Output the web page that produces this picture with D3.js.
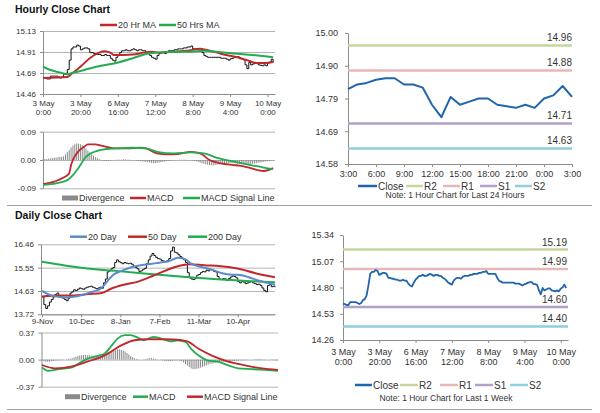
<!DOCTYPE html>
<html>
<head>
<meta charset="utf-8">
<script src="https://cdn.jsdelivr.net/npm/d3@7"></script>
<style>
  body { margin: 0; background: #fff; }
  svg { display: block; }
</style>
</head>
<body>
<svg width="600" height="413"></svg>
<script>
// ---- hourly closes, 3 May 0:00 .. 10 May 3:00 (one value per trading hour)
var hourlyClose = [
  14.635, 14.63, 14.62, 14.62, 14.65, 14.65, 14.65, 14.65, 14.64, 14.63,
  14.64, 14.67, 14.68, 14.72, 14.82, 14.94, 14.96, 14.96, 14.98, 14.97,
  14.93, 14.94, 14.95, 14.95, 14.94, 14.90, 14.90, 14.89, 14.89, 14.88,
  14.88, 14.87, 14.87, 14.88, 14.87, 14.87, 14.84, 14.82, 14.81, 14.85,
  14.88, 14.90, 14.92, 14.92, 14.93, 14.92, 14.92, 14.93, 14.94, 14.93,
  14.92, 14.93, 14.93, 14.92, 14.92, 14.90, 14.89, 14.87, 14.85, 14.84,
  14.83, 14.87, 14.89, 14.90, 14.90, 14.89, 14.91, 14.92, 14.92, 14.92,
  14.93, 14.93, 14.94, 14.94, 14.94, 14.95, 14.95, 14.96, 14.96, 14.97,
  14.94, 14.94, 14.94, 14.94, 14.94, 14.90, 14.87, 14.86, 14.85, 14.85,
  14.85, 14.85, 14.85, 14.85, 14.85, 14.84, 14.84, 14.84, 14.83,
  14.82, 14.835, 14.84, 14.85, 14.855, 14.855, 14.835, 14.835, 14.825, 14.77,
  14.73, 14.795, 14.77, 14.78, 14.79, 14.79, 14.77, 14.765, 14.76, 14.77,
  14.76, 14.79, 14.80, 14.83, 14.795
];
var hourLabelIdx = [0, 20, 40, 60, 80, 100, 120];
var hourLabelDay = ['3 May', '3 May', '6 May', '7 May', '8 May', '9 May', '10 May'];
var hourLabelTime = ['0:00', '20:00', '16:00', '12:00', '8:00', '4:00', '0:00'];

var ma20HrIdx = [0, 13, 15, 20, 25, 30, 33, 36, 38, 43, 48, 54, 58, 62, 70, 77, 84, 87, 93, 98, 104, 109, 114, 119, 123];
var ma20Hr = [14.63, 14.64, 14.67, 14.75, 14.84, 14.90, 14.915, 14.90, 14.875, 14.875, 14.88, 14.90, 14.91, 14.90, 14.91, 14.92, 14.94, 14.93, 14.90, 14.875, 14.85, 14.82, 14.79, 14.79, 14.80];
var ma50HrIdx = [0, 4, 9, 13, 15, 22, 31, 39, 48, 55, 61, 70, 79, 86, 93, 102, 112, 123];
var ma50Hr = [14.75, 14.715, 14.69, 14.67, 14.68, 14.715, 14.76, 14.79, 14.84, 14.885, 14.90, 14.91, 14.91, 14.92, 14.91, 14.89, 14.875, 14.85];

var hrMacdIdx = [0, 6, 11, 14, 15, 18, 22, 24, 28, 31, 36, 39, 45, 52, 55, 61, 66, 72, 79, 84, 89, 95, 102, 105, 111, 118, 123];
var hrMacd = [-0.077, -0.069, -0.056, -0.042, -0.016, 0.021, 0.042, 0.050, 0.050, 0.046, 0.039, 0.037, 0.037, 0.039, 0.037, 0.021, 0.018, 0.019, 0.026, 0.021, 0.000, -0.011, -0.016, -0.018, -0.026, -0.035, -0.026];
var hrSignalIdx = [0, 7, 13, 16, 20, 23, 29, 34, 39, 48, 55, 61, 70, 79, 86, 93, 102, 111, 118, 123];
var hrSignal = [-0.079, -0.074, -0.064, -0.048, -0.016, 0.011, 0.029, 0.035, 0.037, 0.039, 0.037, 0.026, 0.021, 0.024, 0.021, 0.007, -0.005, -0.016, -0.024, -0.029];
var hrDivergence = [
  0.002, 0.003, 0.003, 0.004, 0.005,
  0.006, 0.007, 0.008, 0.009, 0.010, 0.010, 0.012,
  0.018, 0.025, 0.032,
  0.040, 0.046, 0.050, 0.053, 0.052, 0.050,
  0.047, 0.042, 0.036, 0.030, 0.024,
  0.018, 0.013, 0.009, 0.006, 0.003,
  0.001, -0.002, -0.003, -0.003, -0.002, -0.002, -0.001, 0.000, 0.001, 0.001,
  0.001, 0.001, 0.002, 0.002, 0.001, 0.001, 0.000, 0.000, -0.001, -0.002, -0.003, -0.004, -0.004, -0.005, -0.006,
  -0.007, -0.008, -0.009, -0.010, -0.010, -0.009, -0.008, -0.007, -0.006, -0.005, -0.004, -0.003, -0.002, -0.001, -0.001, 0.000, 0.000, 0.001,
  0.001, 0.001, 0.001, 0.000, 0.000, -0.001, -0.002, -0.003, -0.004, -0.006, -0.008,
  -0.010, -0.012, -0.014, -0.015, -0.016, -0.017, -0.017, -0.016, -0.015, -0.014, -0.013, -0.012, -0.012, -0.011, -0.011, -0.010,
  -0.010, -0.010, -0.011, -0.012, -0.012, -0.013, -0.013, -0.014, -0.014, -0.014, -0.013, -0.012, -0.011, -0.010, -0.009, -0.008, -0.007, -0.006, -0.005, -0.004, -0.003, -0.002, -0.001
];

// ---- last 24 hours and pivot levels
var dayHourLabels = ['3:00', '6:00', '9:00', '12:00', '15:00', '18:00', '21:00', '0:00', '3:00'];
var levelNames = ['R2', 'R1', 'S1', 'S2'];
var levels24h = [14.96, 14.88, 14.71, 14.63];
var levelsWeek = [15.19, 14.99, 14.60, 14.40];

// ---- daily closes, 9 Nov .. 10 May
var dailyClose = [
  14.40, 14.10, 13.95, 14.05, 14.20, 14.30, 14.40, 14.50, 14.55, 14.45,
  14.40, 14.35, 14.30, 14.25, 14.35, 14.55, 14.60, 14.68, 14.65, 14.70,
  14.75, 14.72, 14.70, 14.75, 14.78, 14.80, 14.82, 14.78, 14.75, 14.72,
  14.75, 14.78, 14.74, 14.95, 15.10, 15.38, 15.42, 15.50, 15.55, 15.75,
  15.85, 15.78, 15.74, 15.70, 15.75, 15.72, 15.70, 15.72, 15.68, 15.60,
  15.55, 15.50, 15.40, 15.42, 15.48, 15.52, 15.70, 15.85, 16.00, 16.10,
  16.02, 15.95, 15.90, 15.88, 15.82, 15.80, 15.78, 15.82, 15.90, 16.20,
  16.35, 16.15, 16.12, 16.05, 15.98, 15.92, 15.85, 15.75, 15.35, 15.15,
  15.10, 15.08, 15.12, 15.25, 15.28, 15.35, 15.40, 15.38, 15.45, 15.42,
  15.48, 15.45, 15.40, 15.38, 15.20, 15.10, 15.08, 15.12, 15.10, 15.05,
  15.12, 15.18, 15.22, 15.20, 15.15, 15.00, 14.95, 15.00, 14.98, 14.92,
  14.95, 14.98, 15.00, 14.95, 14.92, 14.88, 14.90, 14.85, 14.75, 14.65,
  14.60, 14.85, 14.88, 14.80, 14.82, 14.78
];
var dayLabelIdx = [0, 21, 42, 63, 84, 105];
var dayLabels = ['9-Nov', '10-Dec', '8-Jan', '7-Feb', '11-Mar', '10-Apr'];

var ma20DayIdx = [0, 5, 12, 18, 23, 28, 32, 35, 38, 43, 48, 53, 59, 63, 68, 73, 77, 80, 86, 91, 96, 102, 105, 111, 116, 121, 125];
var ma20Day = [14.64, 14.46, 14.38, 14.42, 14.51, 14.62, 14.75, 15.01, 15.25, 15.43, 15.56, 15.64, 15.70, 15.74, 15.80, 15.93, 15.87, 15.70, 15.56, 15.47, 15.34, 15.27, 15.27, 15.17, 15.04, 14.95, 14.88];
var ma50DayIdx = [0, 9, 16, 25, 32, 37, 44, 52, 59, 63, 71, 79, 87, 96, 105, 114, 125];
var ma50Day = [14.42, 14.46, 14.46, 14.51, 14.55, 14.72, 14.88, 15.01, 15.21, 15.33, 15.56, 15.68, 15.64, 15.60, 15.51, 15.34, 15.17];
var ma200DayIdx = [0, 9, 19, 30, 41, 52, 61, 79, 96, 114, 125];
var ma200Day = [15.78, 15.67, 15.56, 15.47, 15.41, 15.34, 15.28, 15.17, 15.08, 15.01, 14.97];

var dMacdIdx = [0, 3, 9, 16, 19, 24, 30, 33, 37, 40, 44, 47, 51, 54, 59, 63, 68, 72, 76, 79, 83, 88, 93, 99, 104, 111, 118, 125];
var dMacd = [-0.106, -0.152, -0.13, -0.106, -0.06, 0.01, 0.055, 0.079, 0.194, 0.287, 0.333, 0.333, 0.296, 0.264, 0.31, 0.287, 0.25, 0.264, 0.24, 0.148, 0.055, -0.014, -0.028, -0.083, -0.12, -0.13, -0.14, -0.152];
var dSignalIdx = [0, 7, 16, 24, 33, 42, 49, 56, 65, 74, 77, 83, 90, 97, 104, 113, 120, 125];
var dSignal = [-0.074, -0.12, -0.093, -0.028, 0.055, 0.194, 0.264, 0.278, 0.278, 0.264, 0.25, 0.148, 0.055, -0.014, -0.06, -0.106, -0.13, -0.14];
var dDivergence = [
  -0.01, -0.02, -0.03, -0.03, -0.03, -0.02, -0.02, -0.01, -0.01, -0.01, -0.005, -0.005,
  0.0, 0.005, 0.01, 0.015, 0.02, 0.03, 0.04, 0.05,
  0.055, 0.06, 0.065, 0.065, 0.06, 0.06, 0.055, 0.05, 0.05, 0.05,
  0.05, 0.055, 0.06, 0.07, 0.085, 0.10,
  0.11, 0.12, 0.13, 0.135, 0.14, 0.14, 0.135, 0.125, 0.11, 0.09,
  0.07, 0.05, 0.035, 0.02, 0.01, 0.005, 0.0,
  0.0, 0.005, 0.01, 0.015, 0.02, 0.02, 0.015, 0.01,
  0.005, 0.0, -0.005, -0.01, -0.015, -0.02,
  -0.02, -0.02, -0.015, -0.01, -0.01, -0.01, -0.015, -0.02, -0.04, -0.06,
  -0.08, -0.10, -0.12, -0.13, -0.13, -0.125, -0.12, -0.11, -0.10, -0.09, -0.08,
  -0.07, -0.06, -0.055, -0.05, -0.045, -0.04, -0.035, -0.03,
  -0.03, -0.03, -0.03, -0.025, -0.025, -0.02, -0.02, -0.015, -0.015, -0.01,
  -0.01, -0.01, -0.005, -0.005, 0.0, 0.0, 0.005, 0.005, 0.01, 0.01,
  0.01, 0.005, 0.005, 0.0, 0.0, -0.005, -0.005, -0.01, -0.01, -0.01
];

var NARROW = "'Liberation Sans Narrow','Arial Narrow','Liberation Sans',Arial,sans-serif";
var GRID = '#b4b4b4', AXIS = '#8c8c8c', TXT = '#333';
var RED = '#c0282d', GREEN = '#21ad4f', BLUE = '#5b8bc8', CLOSE = '#2066ac', GREY = '#8a8a8a';
var levelColors = ['#c4d79b', '#e6b8b7', '#b1a0c7', '#92cddc'];

var svg = d3.select('svg');

function txt(x, y, s, size, anchor) {
  return svg.append('text')
    .attr('x', x).attr('y', y)
    .attr('font-family', NARROW).attr('font-size', size)
    .attr('text-anchor', anchor || 'start')
    .attr('fill', TXT)
    .text(s);
}

function styleAxis(g, size) {
  g.attr('font-family', NARROW).attr('font-size', size);
  g.select('.domain').attr('stroke', AXIS);
  g.selectAll('.tick line').attr('stroke', AXIS);
  g.selectAll('.tick text').attr('fill', TXT);
}

// y axis with tick labels, optional gridlines across the plot
function yAxis(x0, x1, y, vals, labels, grid, size, pad) {
  if (grid) {
    svg.append('g')
      .attr('transform', 'translate(' + x0 + ',0)')
      .call(d3.axisLeft(y).tickValues(vals).tickSize(-(x1 - x0)).tickFormat(''))
      .call(g => {
        g.select('.domain').remove();
        g.selectAll('line').attr('stroke', GRID);
      });
  }
  var g = svg.append('g')
    .attr('transform', 'translate(' + x0 + ',0)')
    .call(d3.axisLeft(y).tickValues(vals).tickFormat((d, i) => labels[i])
      .tickSize(3).tickSizeOuter(0).tickPadding(pad || 3));
  styleAxis(g, size);
}

// x axis at y0, labels in one or two lines
function xAxis(x, y0, idx, line1, line2, size, dy1, dy2) {
  var g = svg.append('g')
    .attr('transform', 'translate(0,' + y0 + ')')
    .call(d3.axisBottom(x).tickValues(idx).tickSize(3).tickSizeOuter(0).tickFormat(''));
  styleAxis(g, size);
  g.selectAll('.tick').each(function (d, i) {
    var t = d3.select(this).append('text')
      .attr('fill', TXT).attr('text-anchor', 'middle');
    t.append('tspan').attr('x', 0).attr('y', dy1).text(line1[i]);
    if (line2) t.append('tspan').attr('x', 0).attr('y', dy2).text(line2[i]);
  });
}

function legend(y, items, size) {
  items.forEach(it => {
    if (it.bar) {
      svg.append('rect').attr('x', it.x).attr('y', y - 2.5)
        .attr('width', it.w).attr('height', 5).attr('fill', it.color);
    } else {
      svg.append('line').attr('x1', it.x).attr('x2', it.x + it.w)
        .attr('y1', y).attr('y2', y)
        .attr('stroke', it.color).attr('stroke-width', it.sw || 2.5);
    }
    txt(it.x + it.w + 1, y + size * 0.35, it.label, size);
  });
}

function path(data, line, color, width) {
  svg.append('path').datum(data)
    .attr('d', line).attr('fill', 'none')
    .attr('stroke', color).attr('stroke-width', width)
    .attr('stroke-linejoin', 'round');
}

function smooth(x, y) {
  return d3.line().x(d => x(d[0])).y(d => y(d[1])).curve(d3.curveMonotoneX);
}

function bars(data, x, y, color) {
  svg.append('g').selectAll('rect').data(data).enter().append('rect')
    .attr('x', (d, i) => x(i) - 0.5)
    .attr('y', d => Math.min(y(d), y(0)))
    .attr('width', 1)
    .attr('height', d => Math.abs(y(d) - y(0)))
    .attr('fill', color);
}

function evenTicks(lo, hi, n) {
  return d3.range(n).map(k => lo + k * (hi - lo) / (n - 1));
}

// ===================== Hourly close chart (top left)
svg.append('text').attr('x', 15).attr('y', 13)
  .attr('font-family', "'Liberation Sans',Arial,sans-serif")
  .attr('font-size', 10.5).attr('font-weight', 'bold').attr('fill', '#111')
  .text('Hourly Close Chart');

var hx = d3.scaleLinear().domain([0, 124]).range([43, 275]);
var hy = d3.scaleLinear().domain([14.46, 15.13]).range([94, 31]);
yAxis(43, 275, hy, evenTicks(14.46, 15.13, 4), ['14.46', '14.69', '14.91', '15.13'], true, 8, 4);
xAxis(hx, 94, hourLabelIdx, hourLabelDay, hourLabelTime, 8, 12, 21);

path(hourlyClose, d3.line().x((d, i) => hx(i)).y(d => hy(d)).curve(d3.curveStepAfter), '#111', 1);
path(d3.zip(ma20HrIdx, ma20Hr), smooth(hx, hy), RED, 2);
path(d3.zip(ma50HrIdx, ma50Hr), smooth(hx, hy), GREEN, 2);
legend(25, [
  { x: 100, w: 17, color: RED, label: '20 Hr MA' },
  { x: 159, w: 17, color: GREEN, label: '50 Hrs MA' }
], 9);

// hourly MACD
var hmy = d3.scaleLinear().domain([-0.09, 0.09]).range([188.3, 131.7]);
yAxis(43, 275, hmy, [-0.09, 0, 0.09], ['-0.09', '0.00', '0.09'], true, 8, 4);
bars(hrDivergence, hx, hmy, GREY);
path(d3.zip(hrMacdIdx, hrMacd), smooth(hx, hmy), RED, 1.8);
path(d3.zip(hrSignalIdx, hrSignal), smooth(hx, hmy), GREEN, 1.8);
legend(198, [
  { x: 62, w: 16, color: GREY, label: 'Divergence', bar: true },
  { x: 130, w: 16, color: RED, label: 'MACD' },
  { x: 183, w: 17, color: GREEN, label: 'MACD Signal Line' }
], 9);

// ===================== last 24 hours (top right)
var last24 = hourlyClose.slice(-25);
var tx = d3.scaleLinear().domain([0, 24]).range([348, 572]);
var ty = d3.scaleLinear().domain([14.58, 15.00]).range([164, 33]);
yAxis(348, 572, ty, evenTicks(14.58, 15.00, 5), ['14.58', '14.69', '14.79', '14.90', '15.00'], false, 9, 7);
xAxis(tx, 164, d3.range(0, 25, 3), dayHourLabels, null, 9, 13, 0);
levels24h.forEach((v, i) => {
  svg.append('line').attr('x1', tx(0)).attr('x2', tx(24))
    .attr('y1', ty(v)).attr('y2', ty(v))
    .attr('stroke', levelColors[i]).attr('stroke-width', 2.5);
  txt(tx(24), ty(v) - 4, v.toFixed(2), 10, 'end');
});
path(last24, d3.line().x((d, i) => tx(i)).y(d => ty(d)), CLOSE, 2);
legend(186, [{ x: 358, w: 19, color: CLOSE, label: 'Close' }].concat(levelNames.map((n, i) => ({
  x: [406, 443, 480, 515][i], w: 17, color: levelColors[i], label: n
}))), 10);
txt(455, 198, 'Note: 1 Hour Chart for Last 24 Hours', 8.5, 'middle');

// separators
svg.append('line').attr('x1', 7).attr('x2', 592).attr('y1', 205.5).attr('y2', 205.5).attr('stroke', '#a0a0a0');
svg.append('line').attr('x1', 7).attr('x2', 592).attr('y1', 409.5).attr('y2', 409.5).attr('stroke', '#a0a0a0');

// ===================== Daily close chart (bottom left)
svg.append('text').attr('x', 15).attr('y', 218.5)
  .attr('font-family', "'Liberation Sans',Arial,sans-serif")
  .attr('font-size', 10.5).attr('font-weight', 'bold').attr('fill', '#111')
  .text('Daily Close Chart');

var dx = d3.scaleLinear().domain([0, 125]).range([42, 275]);
var dy = d3.scaleLinear().domain([13.72, 16.46]).range([314.3, 244.3]);
yAxis(41, 275, dy, evenTicks(13.72, 16.46, 4), ['13.72', '14.63', '15.55', '16.46'], true, 8, 4);
xAxis(dx, 314.3, dayLabelIdx, dayLabels, null, 8, 10, 0);
path(dailyClose, d3.line().x((d, i) => dx(i)).y(d => dy(d)).curve(d3.curveStepAfter), '#111', 1);
path(d3.zip(ma200DayIdx, ma200Day), smooth(dx, dy), GREEN, 2);
path(d3.zip(ma50DayIdx, ma50Day), smooth(dx, dy), RED, 2);
path(d3.zip(ma20DayIdx, ma20Day), smooth(dx, dy), BLUE, 2);
legend(236.7, [
  { x: 70, w: 17, color: BLUE, label: '20 Day' },
  { x: 128, w: 19, color: RED, label: '50 Day' },
  { x: 188, w: 19, color: GREEN, label: '200 Day' }
], 9);

// daily MACD
var dmx = d3.scaleLinear().domain([0, 125]).range([42, 278]);
var dmy = d3.scaleLinear().domain([-0.37, 0.37]).range([386.7, 332.5]);
yAxis(41.5, 278, dmy, [-0.37, 0, 0.37], ['-0.37', '0.00', '0.37'], true, 8, 4);
bars(dDivergence, dmx, dmy, GREY);
path(d3.zip(dMacdIdx, dMacd), smooth(dmx, dmy), GREEN, 1.8);
path(d3.zip(dSignalIdx, dSignal), smooth(dmx, dmy), RED, 1.8);
legend(396.7, [
  { x: 65, w: 15, color: GREY, label: 'Divergence', bar: true },
  { x: 133, w: 15, color: GREEN, label: 'MACD' },
  { x: 187, w: 16, color: RED, label: 'MACD Signal Line' }
], 9);

// ===================== last week hourly (bottom right)
var wx = d3.scaleLinear().domain([0, 124]).range([343, 568]);
var wy = d3.scaleLinear().domain([14.26, 15.34]).range([340, 235]);
yAxis(343, 568, wy, evenTicks(14.26, 15.34, 5), ['14.26', '14.53', '14.80', '15.07', '15.34'], false, 9, 6);
xAxis(wx, 340, hourLabelIdx, hourLabelDay, hourLabelTime, 9, 15, 25);
levelsWeek.forEach((v, i) => {
  svg.append('line').attr('x1', wx(0)).attr('x2', wx(124))
    .attr('y1', wy(v)).attr('y2', wy(v))
    .attr('stroke', levelColors[i]).attr('stroke-width', 2.5);
  txt(wx(124) - 1, wy(v) - 4, v.toFixed(2), 10, 'end');
});
path(hourlyClose, d3.line().x((d, i) => wx(i)).y(d => wy(d)), CLOSE, 1.8);
legend(385, [{ x: 355, w: 17, color: CLOSE, label: 'Close' }].concat(levelNames.map((n, i) => ({
  x: [400, 440, 475, 510][i], w: 18, color: levelColors[i], label: n
}))), 10);
txt(446, 401, 'Note: 1 Hour Chart for Last 1 Week', 8.5, 'middle');
</script>
</body>
</html>
